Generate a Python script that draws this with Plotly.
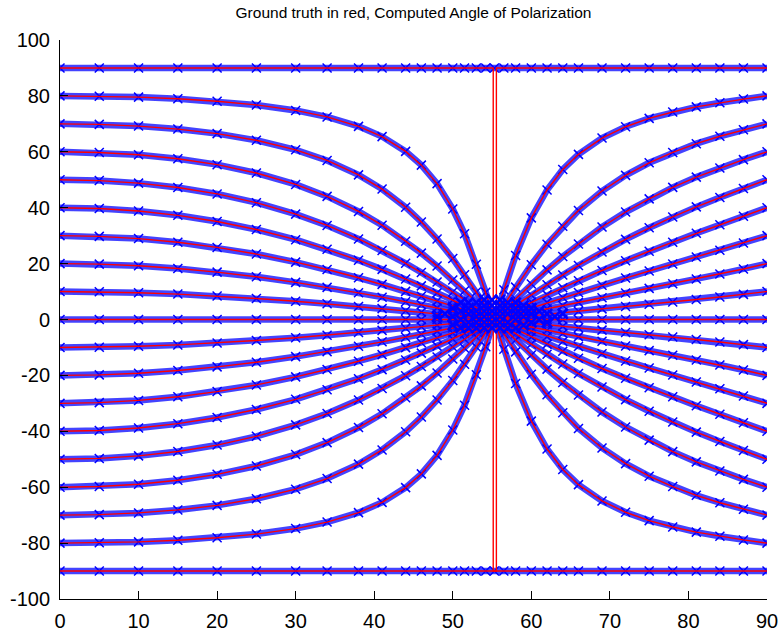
import plotly.graph_objects as go

x_deg = [0, 5, 10, 15, 20, 25, 30, 34, 38, 41, 44, 46, 48, 50, 51.5, 53, 54.2, 55.3,
         56.5, 58, 60, 62, 64, 66, 69, 72, 75, 78, 81, 84, 87, 90]

# Polarization angle curves (deg), one per starting angle; negative starts mirror these
psi_10 = [10, 9.90, 9.59, 9.09, 8.40, 7.53, 6.53, 5.62, 4.65, 3.89, 3.10, 2.56, 2.02, 1.47, 1.06, 0.64, 0.31, 0,
          -0.34, -0.75, -1.31, -1.87, -2.42, -2.97, -3.80, -4.62, -5.45, -6.29, -7.15, -8.04, -8.98, -10]
psi_20 = [20, 19.81, 19.23, 18.27, 16.94, 15.27, 13.29, 11.49, 9.54, 7.99, 6.38, 5.28, 4.16, 3.03, 2.18, 1.32, 0.63, 0,
          -0.69, -1.55, -2.70, -3.85, -4.99, -6.12, -7.80, -9.48, -11.14, -12.82, -14.52, -16.25, -18.06, -20]
psi_30 = [30, 29.74, 28.95, 27.64, 25.79, 23.41, 20.53, 17.87, 14.93, 12.56, 10.06, 8.34, 6.59, 4.80, 3.45, 2.09, 1.00, 0,
          -1.10, -2.47, -4.28, -6.09, -7.88, -9.65, -12.27, -14.83, -17.35, -19.84, -22.33, -24.81, -27.35, -30]
psi_40 = [40, 39.70, 38.80, 37.27, 35.08, 32.19, 28.56, 25.11, 21.18, 17.94, 14.46, 12.03, 9.53, 6.96, 5.01, 3.04, 1.45, 0,
          -1.60, -3.58, -6.21, -8.81, -11.37, -13.88, -17.53, -21.05, -24.42, -27.67, -30.84, -33.90, -36.93, -40]
psi_50 = [50, 49.70, 48.79, 47.22, 44.93, 41.79, 37.71, 33.65, 28.82, 24.69, 20.11, 16.84, 13.41, 9.84, 7.10, 4.31, 2.06, 0,
          -2.27, -5.08, -8.79, -12.42, -15.94, -19.34, -24.17, -28.66, -32.82, -36.68, -40.29, -43.66, -46.87, -50]
psi_60 = [60, 59.74, 58.93, 57.52, 55.40, 52.41, 48.33, 44.05, 38.65, 33.75, 28.02, 23.74, 19.11, 14.15, 10.26, 6.26, 3.00, 0,
          -3.29, -7.36, -12.67, -17.75, -22.54, -27.02, -33.11, -38.46, -43.15, -47.27, -50.94, -54.21, -57.20, -60]
psi_70 = [70, 69.81, 69.20, 68.13, 66.50, 64.12, 60.71, 56.91, 51.75, 46.66, 40.17, 34.90, 28.80, 21.80, 16.02, 9.86, 4.75, 0,
          -5.21, -11.58, -19.62, -26.92, -33.36, -38.97, -45.97, -51.57, -56.08, -59.78, -62.91, -65.56, -67.89, -70]
psi_80 = [80, 79.90, 79.57, 79.00, 78.10, 76.77, 74.80, 72.48, 69.10, 65.43, 60.15, 55.23, 48.61, 39.54, 30.66, 19.75, 9.73, 0,
          -10.67, -22.93, -36.35, -46.34, -53.66, -59.08, -64.91, -68.97, -71.95, -74.24, -76.08, -77.58, -78.86, -80]
psi_0 = [0] * len(x_deg)

# Noisy computed crosses around the Brewster angle (estimated from the dense blue blob)
blob_x = [50, 50, 50, 51, 51, 51, 51, 52, 52, 52, 52, 52, 53, 53, 53, 53, 53, 54, 54, 54, 54, 54, 54,
          55, 55, 55, 55, 55, 55, 56, 56, 56, 56, 56, 56, 57, 57, 57, 57, 57, 58, 58, 58, 58, 58,
          59, 59, 59, 59, 60, 60, 60, 61, 61, 62, 62, 48, 49, 63, 64]
blob_y = [-2, 1, 4, -3, 0, 3, 6, -3, -1, 2, 4, 6, -3, -1, 1, 3, 6, -3, -1, 1, 3, 5, 7,
          -3, -1, 1, 3, 5, 7, -3, -1, 1, 3, 5, 7, -3, -1, 2, 4, 6, -3, 0, 2, 4, 6,
          -2, 1, 3, 5, -1, 2, 4, 0, 3, -1, 2, 1, 2, 1, 2]

# +/-90 deg curves: flat, with the ground truth flipping at the Brewster angle
edge_x = [0, 90]
flip_x_pos90 = 55.15
flip_x_neg90 = 55.55

curves = [psi_10, psi_20, psi_30, psi_40, psi_50, psi_60, psi_70, psi_80]

x_ticks = [0, 10, 20, 30, 40, 50, 60, 70, 80, 90]
y_ticks = [-100, -80, -60, -40, -20, 0, 20, 40, 60, 80, 100]

BLUE = "#0000ff"
RED = "#ff0000"

fig = go.Figure()

# Computed (blue crosses)
def blue(x, y):
    fig.add_trace(go.Scatter(
        x=x, y=y, mode="lines+markers",
        line=dict(color="rgba(20,20,255,0.8)", width=6.5),
        marker=dict(symbol="x-thin", size=9, line=dict(color=BLUE, width=1.5)),
        hoverinfo="skip", showlegend=False))

for c in curves:
    blue(x_deg, c)
    blue(x_deg, [-v for v in c])
blue(x_deg, psi_0)
blue(x_deg, [90] * len(x_deg))
blue(x_deg, [-90] * len(x_deg))

# Ground truth (red lines)
def red(x, y):
    fig.add_trace(go.Scatter(
        x=x, y=y, mode="lines", line=dict(color=RED, width=1.4),
        hoverinfo="skip", showlegend=False))

for c in curves:
    red(x_deg, c)
    red(x_deg, [-v for v in c])
red(x_deg, psi_0)
red([edge_x[0], flip_x_pos90, flip_x_pos90, edge_x[1]], [90, 90, -90, -90])
red([edge_x[0], flip_x_neg90, flip_x_neg90, edge_x[1]], [-90, -90, 90, 90])

# Noisy computed values near the Brewster angle drawn over the truth
fig.add_trace(go.Scatter(
    x=blob_x, y=blob_y, mode="markers",
    marker=dict(symbol="x-thin", size=10, line=dict(color=BLUE, width=2.5)),
    hoverinfo="skip", showlegend=False))

FONT = "Liberation Sans, Arial, sans-serif"

fig.update_layout(
    width=781, height=632,
    margin=dict(l=59.5, r=13.5, t=39.5, b=33, autoexpand=False),
    paper_bgcolor="white", plot_bgcolor="white",
    showlegend=False,
    title=dict(text="Ground truth in red, Computed Angle of Polarization",
               x=0.5, xref="paper", y=1 - 13 / 632, yref="container",
               xanchor="center", yanchor="middle",
               font=dict(family=FONT, size=15.5, color="black")),
    font=dict(family=FONT, color="black"),
)
fig.update_xaxes(range=[0, 90], tickvals=x_ticks, ticktext=[str(v) for v in x_ticks],
                 showgrid=False, zeroline=False, showline=True, linecolor="black",
                 linewidth=1, ticks="inside", ticklen=8, tickcolor="black",
                 ticklabelstandoff=4, automargin=False,
                 tickfont=dict(family=FONT, size=20, color="black"), mirror=False)
fig.update_yaxes(range=[-100, 100], tickvals=y_ticks, ticktext=[str(v) for v in y_ticks],
                 showgrid=False, zeroline=False, showline=True, linecolor="black",
                 linewidth=1, ticks="inside", ticklen=8, tickcolor="black",
                 ticklabelstandoff=5, automargin=False,
                 tickfont=dict(family=FONT, size=20, color="black"), mirror=False)

# Remove the default 8 px page margin so the figure fills the window exactly
fig.write_html("out.html", config={"displayModeBar": False},
               post_script="document.body.style.margin='0';")
